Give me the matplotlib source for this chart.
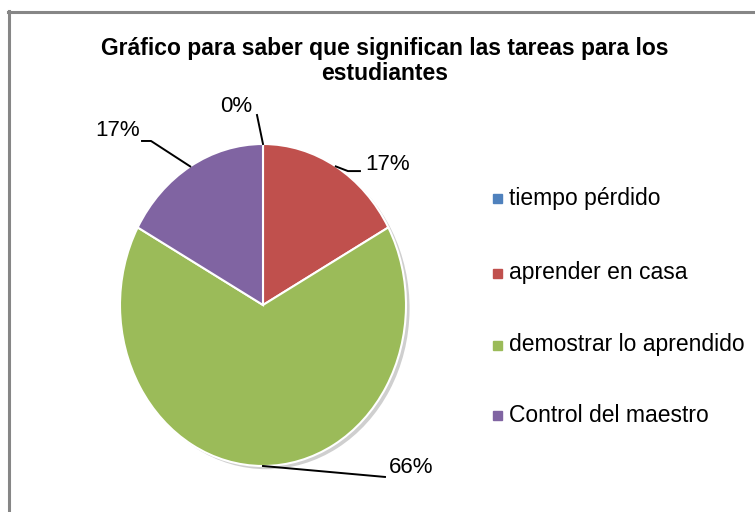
import numpy as np
import matplotlib
matplotlib.use("Agg")
import matplotlib.pyplot as plt
from matplotlib.patches import Rectangle
from matplotlib.lines import Line2D

plt.rcParams['font.family'] = ['Liberation Sans', 'DejaVu Sans']

categories = ["tiempo pérdido", "aprender en casa", "demostrar lo aprendido", "Control del maestro"]
values = [0, 17, 66, 17]
labels = ["0%", "17%", "66%", "17%"]
colors = ["#4F81BD", "#C0504D", "#9BBB59", "#8064A2"]
title = "Gráfico para saber que significan las tareas para los\nestudiantes"

W, H = 755, 512
fig = plt.figure(figsize=(W / 100, H / 100), dpi=100)

# border lines (top and left)
fig.add_artist(Line2D([8 / W, 1], [1 - 11.5 / H, 1 - 11.5 / H], color="#868686", lw=2.2))
fig.add_artist(Line2D([8.5 / W, 8.5 / W], [0, 1 - 11 / H], color="#868686", lw=2.2))

fig.text(385 / W, 1 - 61 / H, title, ha="center", va="center", fontsize=16.5,
         fontweight="bold", linespacing=1.1)

# pie axes: bounding box of the (stretched) pie
cx, cy, rx, ry = 263, 305, 143, 161
ax = fig.add_axes([(cx - rx) / W, 1 - (cy + ry) / H, 2 * rx / W, 2 * ry / H])

# subtle shadow
ax.pie(values, radius=1.0, startangle=90, counterclock=False, center=(0.025, -0.02),
       colors=["#cfcfcf"] * 4, wedgeprops=dict(linewidth=0), frame=True)
wedges, _ = ax.pie(values, radius=1.0, startangle=90, counterclock=False,
                   colors=colors, wedgeprops=dict(edgecolor="white", linewidth=1.5),
                   frame=True)
ax.set_xlim(-1, 1)
ax.set_ylim(-1, 1)
ax.set_aspect("auto")
ax.axis("off")

# label offsets (leader bend points and text anchor) relative to the wedge mid point
label_geo = [
    dict(pts=[(-0.042, 0.180)], txt=(-0.189, 0.236), ha="center"),
    dict(pts=[(0.085, -0.029), (0.169, -0.029)], txt=(0.207, 0.015), ha="left"),
    dict(pts=[(0.853, -0.068)], txt=(0.878, -0.012), ha="left"),
    dict(pts=[(-0.274, 0.158), (-0.337, 0.158)], txt=(-0.352, 0.226), ha="right"),
]
for w, lab, g in zip(wedges, labels, label_geo):
    mid = np.deg2rad((w.theta1 + w.theta2) / 2)
    x0, y0 = np.cos(mid), np.sin(mid)
    xs = [x0] + [x0 + dx for dx, dy in g["pts"]]
    ys = [y0] + [y0 + dy for dx, dy in g["pts"]]
    ax.plot(xs, ys, color="black", lw=1.4, clip_on=False)
    ax.text(x0 + g["txt"][0], y0 + g["txt"][1], lab, ha=g["ha"], va="center",
            fontsize=16, clip_on=False)

# legend
leg_y = [198, 273, 345, 415]
for cat, col, y in zip(categories, colors, leg_y):
    fig.add_artist(Rectangle((493 / W, 1 - (y + 4.5) / H), 9 / W, 9 / H,
                             color=col, transform=fig.transFigure))
    fig.text(509 / W, 1 - y / H, cat, ha="left", va="center", fontsize=16.5)

fig.savefig("out.png", dpi=100, facecolor="white")
